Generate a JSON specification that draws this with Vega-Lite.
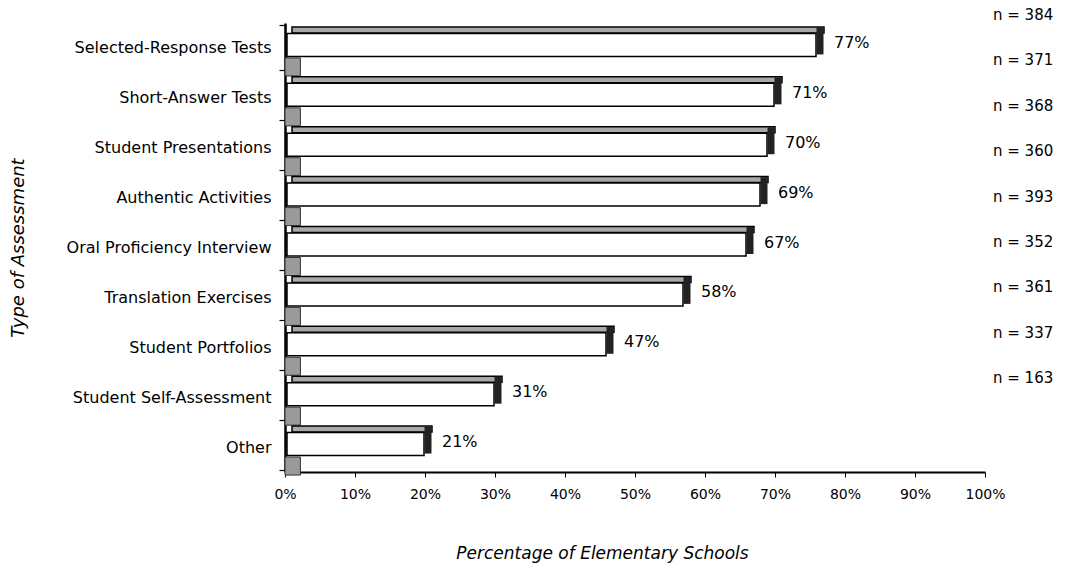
{
  "$schema": "https://vega.github.io/schema/vega-lite/v6.json",
  "width": 700,
  "height": 449,
  "autosize": "none",
  "padding": {"left": 285, "top": 23, "right": 82, "bottom": 99},
  "background": "white",
  "config": {
    "font": "DejaVu Sans",
    "view": {"stroke": null},
    "axis": {"grid": false, "domainColor": "black", "tickColor": "black", "labelColor": "black", "titleColor": "black"}
  },
  "data": {"values": [
    {"cat": "Selected-Response Tests", "pct": 0.77, "nlabel": "n = 384"},
    {"cat": "Short-Answer Tests", "pct": 0.71, "nlabel": "n = 371"},
    {"cat": "Student Presentations", "pct": 0.70, "nlabel": "n = 368"},
    {"cat": "Authentic Activities", "pct": 0.69, "nlabel": "n = 360"},
    {"cat": "Oral Proficiency Interview", "pct": 0.67, "nlabel": "n = 393"},
    {"cat": "Translation Exercises", "pct": 0.58, "nlabel": "n = 352"},
    {"cat": "Student Portfolios", "pct": 0.47, "nlabel": "n = 361"},
    {"cat": "Student Self-Assessment", "pct": 0.31, "nlabel": "n = 337"},
    {"cat": "Other", "pct": 0.21, "nlabel": "n = 163"}
  ]},
  "layer": [
    {
      "encoding": {
        "y": {"field": "cat", "type": "nominal", "sort": null,
          "axis": {"title": "Type of Assessment", "titleFontStyle": "italic", "titleFontWeight": "normal", "titleFontSize": 18, "titlePadding": 58,
            "labelFontSize": 16, "labelPadding": 8, "labelLimit": 400, "tickSize": 6, "tickBand": "extent", "domainWidth": 2.5, "tickWidth": 1.2}}
      },
      "layer": [
        {
          "mark": {"type": "bar", "fill": "#9a9a9a", "stroke": "#333", "strokeWidth": 1, "height": 18, "yOffset": 19},
          "encoding": {"x": {"datum": 0, "type": "quantitative"}, "x2": {"datum": 0.022}}
        },
        {
          "mark": {"type": "bar", "fill": "#a8a8a8", "stroke": "black", "strokeWidth": 1.5, "height": 6, "yOffset": -18, "xOffset": 0, "x2Offset": 7},
          "encoding": {
            "x": {"field": "pct", "type": "quantitative",
              "scale": {"domain": [0, 1], "nice": false},
              "axis": {"format": ".0%", "values": [0, 0.1, 0.2, 0.3, 0.4, 0.5, 0.6, 0.7, 0.8, 0.9, 1],
                "title": "Percentage of Elementary Schools", "titleFontStyle": "italic", "titleFontWeight": "normal", "titleFontSize": 17, "titlePadding": 44, "titleX": 317,
                "labelFontSize": 14, "labelPadding": 10, "tickSize": 5, "domainWidth": 2, "labelFlush": false}},
            "x2": {"datum": 0}
          }
        },
        {
          "mark": {"type": "bar", "fill": "white", "stroke": "black", "strokeWidth": 1.5, "height": 23, "yOffset": -3, "xOffset": -8, "x2Offset": 2},
          "encoding": {"x": {"field": "pct", "type": "quantitative"}, "x2": {"datum": 0}}
        },
        {
          "mark": {"type": "tick", "color": "#222", "opacity": 1, "thickness": 7, "size": 27, "xOffset": -4, "yOffset": -7},
          "encoding": {"x": {"field": "pct", "type": "quantitative"}}
        },
        {
          "mark": {"type": "text", "align": "left", "baseline": "middle", "dx": 10, "yOffset": -5, "fontSize": 16, "color": "black"},
          "encoding": {"x": {"field": "pct", "type": "quantitative"}, "text": {"field": "pct", "format": ".0%"}}
        }
      ]
    },
    {
      "mark": {"type": "text", "align": "left", "baseline": "middle", "dx": 8, "yOffset": -30, "fontSize": 15, "color": "black"},
      "encoding": {
        "x": {"datum": 1, "type": "quantitative"},
        "y": {"field": "cat", "type": "nominal", "sort": null, "axis": null, "scale": {"type": "point", "padding": 0.947, "align": 0.256}},
        "text": {"field": "nlabel"}
      }
    }
  ],
  "resolve": {"scale": {"y": "independent"}}
}
